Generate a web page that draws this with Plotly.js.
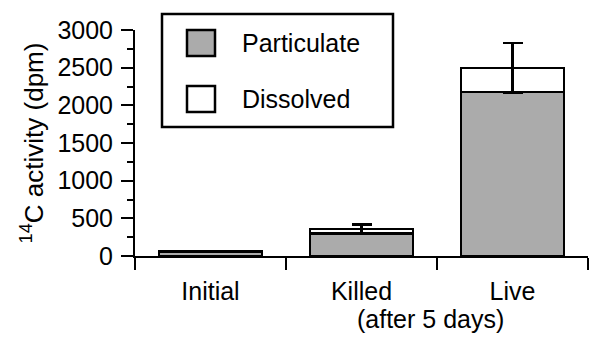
<!DOCTYPE html>
<html>
<head>
<meta charset="utf-8">
<script src="https://cdn.plot.ly/plotly-3.0.1.min.js"></script>
<style>html,body{margin:0;padding:0;background:#fff;}#chart{width:589px;height:337px;}</style>
</head>
<body>
<div id="chart"></div>
<script>
// ---- data ----
const categories = ["Initial", "Killed", "Live"];
const tickLabels = ["Initial", "Killed", "Live"];
const killedNote = "(after 5 days)";
const particulate = [62, 300, 2180];
const dissolved = [0, 60, 315];
const dissolvedErr = [0, 60, 330];
const seriesNames = ["Particulate", "Dissolved"];

// ---- layout helpers ----
const W = 589, H = 337;
const M = {l: 135, r: 1, t: 30, b: 81};
const pw = W - M.l - M.r, ph = H - M.t - M.b;
const px = x => (x - M.l) / pw;
const py = y => (H - M.b - y) / ph;
const FONT = "Liberation Sans, Arial, Helvetica, sans-serif";
const GRAY = "#ababab";

const traces = [
  {type: "bar", name: seriesNames[0], x: categories, y: particulate,
   width: 0.68, marker: {color: GRAY, line: {color: "#000", width: 2.5}}},
  {type: "bar", name: seriesNames[1], x: categories, y: dissolved,
   width: 0.68, marker: {color: "#fff", line: {color: "#000", width: 2.5}},
   error_y: {type: "data", array: dissolvedErr, visible: true, color: "#000", thickness: 2.5, width: 10}}
];

const shapes = [
  {type: "rect", xref: "paper", yref: "paper", x0: px(162), x1: px(393), y0: py(127), y1: py(14),
   line: {color: "#000", width: 2.5}, fillcolor: "rgba(0,0,0,0)"},
  {type: "rect", xref: "paper", yref: "paper", x0: px(187), x1: px(215), y0: py(56), y1: py(30),
   line: {color: "#000", width: 2.5}, fillcolor: GRAY},
  {type: "rect", xref: "paper", yref: "paper", x0: px(187), x1: px(215), y0: py(112), y1: py(86),
   line: {color: "#000", width: 2.5}, fillcolor: "#fff"}
];
const annotations = [
  {xref: "paper", yref: "paper", x: px(240), y: py(43), xanchor: "left", yanchor: "middle",
   text: seriesNames[0], showarrow: false, font: {family: FONT, size: 25, color: "#000"}},
  {xref: "paper", yref: "paper", x: px(240), y: py(99), xanchor: "left", yanchor: "middle",
   text: seriesNames[1], showarrow: false, font: {family: FONT, size: 25, color: "#000"}},
  {xref: "paper", yref: "paper", x: px(430), y: py(319), xanchor: "center", yanchor: "middle",
   text: killedNote, showarrow: false, font: {family: FONT, size: 25, color: "#000"}}
];

const layout = {
  width: W, height: H,
  margin: M,
  paper_bgcolor: "#fff", plot_bgcolor: "#fff",
  barmode: "stack",
  showlegend: false,
  font: {family: FONT, size: 25, color: "#000"},
  xaxis: {type: "category", tickvals: categories, ticktext: tickLabels, range: [-0.5, 2.5],
    tickangle: 0, ticklabelstandoff: 12,
    tickson: "boundaries", ticks: "outside", ticklen: 12, tickwidth: 2, tickcolor: "#000",
    showline: true, linewidth: 2, linecolor: "#000", showgrid: false, zeroline: false,
    automargin: false, tickfont: {family: FONT, size: 25}},
  yaxis: {range: [0, 3000], tickvals: [0, 500, 1000, 1500, 2000, 2500, 3000],
    ticks: "outside", ticklen: 12, tickwidth: 2, tickcolor: "#000", ticklabelstandoff: 3,
    minor: {dtick: 250, ticks: "outside", ticklen: 6, tickwidth: 2, tickcolor: "#000", showgrid: false},
    showline: true, linewidth: 2, linecolor: "#000", showgrid: false, zeroline: false,
    automargin: false, tickfont: {family: FONT, size: 25},
    title: {text: "<sup>14</sup>C activity (dpm)", standoff: 6, font: {family: FONT, size: 26}}},
  shapes: shapes,
  annotations: annotations
};

Plotly.newPlot("chart", traces, layout, {displayModeBar: false, staticPlot: true});
</script>
</body>
</html>
